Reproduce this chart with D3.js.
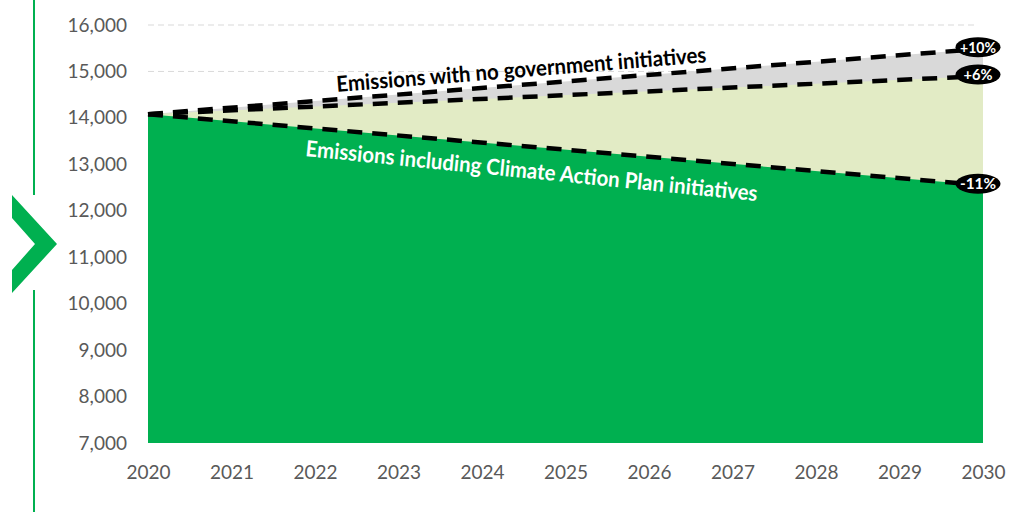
<!DOCTYPE html>
<html>
<head>
<meta charset="utf-8">
<script src="https://cdn.jsdelivr.net/npm/d3@7"></script>
<style>
  html, body { margin: 0; padding: 0; background: #ffffff; }
  svg { display: block; }
  text { font-family: Lato, "Open Sans", sans-serif; }
</style>
</head>
<body>
<svg id="chart" width="1022" height="512"></svg>
<script>
// Emission pathways 2020–2030 (tonnes CO2e)
const years = [2020, 2030];
const noGovernment = [14080, 15490];      // no government initiatives
const existingPolicy = [14080, 14900];    // existing measures only
const climateActionPlan = [14080, 12550]; // with Climate Action Plan initiatives

const changeLabels = ["+10%", "+6%", "-11%"];
const xTicks = [2020, 2021, 2022, 2023, 2024, 2025, 2026, 2027, 2028, 2029, 2030];
const yTicks = [7000, 8000, 9000, 10000, 11000, 12000, 13000, 14000, 15000, 16000];
const gridTicks = [15000, 16000];

const svg = d3.select("#chart");

const x = d3.scaleLinear().domain([2020, 2030]).range([148, 983]);
const y = d3.scaleLinear().domain([7000, 16000]).range([443, 25]);

const GREEN = "#00b050";
const LIGHT = "#e2ebc5";
const GREY = "#d9d9d9";

// side marker: green rule interrupted by a chevron
svg.append("line").attr("x1", 34).attr("x2", 34).attr("y1", 0).attr("y2", 195)
  .attr("stroke", GREEN).attr("stroke-width", 2);
svg.append("line").attr("x1", 34).attr("x2", 34).attr("y1", 290).attr("y2", 512)
  .attr("stroke", GREEN).attr("stroke-width", 2);
svg.append("polygon")
  .attr("points", "12,195 57,244 12,293 12,270 35,244 12,218")
  .attr("fill", GREEN);

// dashed gridlines
svg.append("g").selectAll("line").data(gridTicks).join("line")
  .attr("x1", x(2020)).attr("x2", x(2030) - 5)
  .attr("y1", d => y(d)).attr("y2", d => y(d))
  .attr("stroke", "#d9d9d9").attr("stroke-width", 1)
  .attr("stroke-dasharray", "6,4");

// y axis labels
const yAxis = d3.axisLeft(y).tickValues(yTicks).tickFormat(d3.format(",")).tickSize(0).tickPadding(0);
const gy = svg.append("g").attr("transform", "translate(127,0)").call(yAxis);
gy.select(".domain").remove();
gy.selectAll("text").attr("font-size", 19).attr("fill", "#595959")
  .style("font-family", "Lato, sans-serif");

// x axis labels
const xAxis = d3.axisBottom(x).tickValues(xTicks).tickFormat(d3.format("d")).tickSize(0).tickPadding(0);
const gx = svg.append("g").attr("transform", "translate(0,465)").call(xAxis);
gx.select(".domain").remove();
gx.selectAll("text").attr("font-size", 19).attr("fill", "#595959").attr("dy", "0.71em")
  .style("font-family", "Lato, sans-serif");

// stacked areas
const pts = arr => years.map((yr, i) => ({ yr, v: arr[i] }));
const area = d3.area().x(d => x(d.yr)).y0(y(7000)).y1(d => y(d.v));

svg.append("path").datum(pts(noGovernment)).attr("d", area).attr("fill", GREY);
svg.append("path").datum(pts(existingPolicy)).attr("d", area).attr("fill", LIGHT);
svg.append("path").datum(pts(climateActionPlan)).attr("d", area).attr("fill", GREEN);

// dashed trend lines
const line = d3.line().x(d => x(d.yr)).y(d => y(d.v));
[noGovernment, existingPolicy, climateActionPlan].forEach(s => {
  svg.append("path").datum(pts(s)).attr("d", line)
    .attr("fill", "none").attr("stroke", "#000").attr("stroke-width", 4.5)
    .attr("stroke-dasharray", "15,10");
});

// series captions along the lines
svg.append("text")
  .attr("transform", "translate(337,92) rotate(-4.6)")
  .attr("font-size", 22).attr("font-weight", 700).attr("fill", "#000")
  .attr("textLength", 371).attr("lengthAdjust", "spacingAndGlyphs")
  .text("Emissions with no government initiatives");

svg.append("text")
  .attr("transform", "translate(305,156) rotate(5.7)")
  .attr("font-size", 22).attr("font-weight", 700).attr("fill", "#fff")
  .attr("textLength", 454).attr("lengthAdjust", "spacingAndGlyphs")
  .text("Emissions including Climate Action Plan initiatives");

// change badges at 2030
const ends = [noGovernment, existingPolicy, climateActionPlan].map(s => s[s.length - 1]);
const badges = svg.append("g").selectAll("g").data(ends).join("g")
  .attr("transform", d => `translate(${x(2030) - 5},${y(d) - 1.5})`);
badges.append("ellipse").attr("rx", 22.5).attr("ry", 10).attr("fill", "#000");
badges.append("text").attr("text-anchor", "middle").attr("dy", "0.36em")
  .attr("font-size", 15).attr("font-weight", 700).attr("fill", "#fff")
  .attr("textLength", (d, i) => changeLabels[i].length === 4 ? 36 : 29)
  .attr("lengthAdjust", "spacingAndGlyphs")
  .text((d, i) => changeLabels[i]);
</script>
</body>
</html>
